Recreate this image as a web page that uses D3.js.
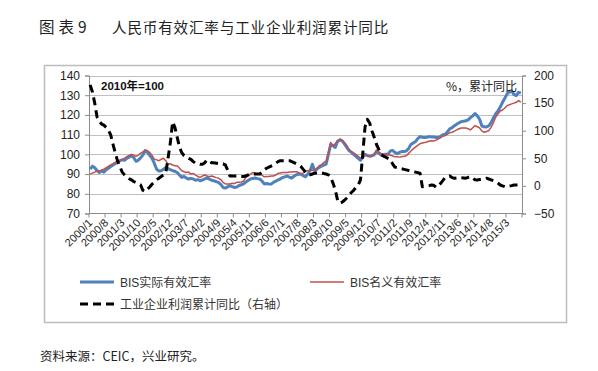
<!DOCTYPE html>
<html>
<head>
<meta charset="utf-8">
<script src="https://cdn.jsdelivr.net/npm/d3@7"></script>
<style>
  html, body { margin: 0; padding: 0; background: #fff; }
  svg { display: block; }
</style>
</head>
<body>
<svg id="chart" width="598" height="371"></svg>
<script>
// ---------- DATA ----------
const startYear = 2000;
const monthCount = 189; // 2000/1 .. 2015/9
const categories = d3.range(monthCount).map(i => `${startYear + Math.floor(i / 12)}/${(i % 12) + 1}`);

const tickLabels = ["2000/1","2000/8","2001/3","2001/10","2002/5","2002/12","2003/7","2004/2","2004/9",
  "2005/4","2005/11","2006/6","2007/1","2007/8","2008/3","2008/10","2009/5","2009/12","2010/7",
  "2011/2","2011/9","2012/4","2012/11","2013/6","2014/1","2014/8","2015/3"];

// BIS real effective exchange rate (2010=100)
const reer = [
  92.5, 94.0, 93.2, 91.8, 90.8, 91.6, 91.0, 92.2, 93.0, 93.8, 94.6, 95.4,
  96.0, 96.8, 97.2, 97.0, 98.0, 98.6, 99.3, 98.4, 96.5, 97.0, 98.2, 99.6,
  101.9, 101.0, 99.5, 98.0, 95.5, 92.5, 91.5, 91.7, 92.4, 93.4, 92.8, 92.2,
  91.7, 91.4, 90.8, 89.5, 88.3, 88.8, 88.0, 87.5, 87.8, 87.5, 86.9, 87.2,
  86.6, 87.0, 87.6, 88.0, 87.4, 86.9, 86.6, 86.2, 85.8, 84.8, 83.2, 82.9,
  83.5, 84.1, 83.6, 83.2, 83.4, 84.2, 84.6, 85.0, 86.0, 86.8, 87.5, 87.8,
  88.0, 87.7, 87.5, 86.5, 85.0, 85.2, 85.0, 84.9, 85.8, 86.4, 87.0, 87.5,
  88.3, 88.6, 89.0, 88.4, 88.0, 88.9, 89.7, 89.9, 90.0, 89.2, 88.6, 90.0,
  91.7, 95.0, 91.7, 92.5, 93.4, 94.0, 94.5, 95.0, 100.0, 105.0, 104.3, 103.5,
  106.6, 107.3, 106.8, 105.3, 103.5, 101.9, 101.0, 100.0, 99.0, 98.0, 97.0, 98.5,
  100.0, 99.5, 99.0, 99.3, 99.8, 101.5, 100.5, 99.7, 99.9, 100.0, 100.0, 101.7,
  102.0, 101.0, 100.3, 101.0, 101.4, 101.5, 101.7, 103.0, 105.0, 105.8, 106.4, 108.0,
  109.0, 108.7, 108.5, 108.7, 109.0, 108.8, 108.8, 108.6, 108.5, 109.2, 110.0, 110.2,
  111.5, 113.0, 113.6, 114.5, 115.3, 116.0, 116.6, 116.8, 117.0, 117.5, 118.6, 119.5,
  120.7, 119.5, 117.8, 114.4, 114.0, 113.9, 114.5, 116.1, 118.5, 120.5, 122.0, 124.0,
  126.4, 128.5, 130.7, 131.5, 132.2, 130.3, 129.8, 131.5, 131.0
];

// BIS nominal effective exchange rate (2010=100)
const neer = [
  90.0, 90.5, 91.0, 91.7, 91.5, 92.0, 92.5, 93.2, 94.0, 94.6, 95.3, 96.0,
  96.5, 96.8, 97.4, 98.0, 98.8, 99.4, 100.0, 99.6, 99.0, 99.6, 100.5, 101.2,
  102.2, 101.8, 101.0, 99.5, 97.6, 97.2, 96.8, 97.5, 98.0, 96.8, 95.0, 95.2,
  94.6, 94.2, 94.2, 93.0, 91.7, 91.2, 90.8, 91.0, 90.0, 90.3, 89.5, 88.8,
  88.3, 89.0, 89.5, 89.0, 88.6, 89.0, 88.6, 88.2, 88.0, 87.2, 85.8, 85.0,
  85.0, 85.0, 85.3, 85.2, 85.8, 85.8, 86.0, 86.5, 88.3, 89.2, 90.0, 90.8,
  90.5, 90.0, 90.0, 89.4, 88.6, 88.8, 88.8, 89.0, 89.0, 89.5, 90.3, 90.6,
  90.8, 90.8, 90.8, 91.0, 91.0, 91.2, 91.2, 90.8, 90.0, 90.5, 91.7, 91.7,
  92.0, 92.0, 92.0, 93.0, 94.2, 94.8, 95.9, 96.5, 100.8, 106.0, 104.3, 105.5,
  106.6, 107.8, 107.2, 106.0, 104.5, 102.5, 101.5, 100.8, 100.0, 99.0, 98.0, 98.5,
  99.5, 99.2, 99.0, 99.2, 100.0, 102.2, 101.2, 100.5, 100.2, 100.0, 99.8, 99.6,
  99.2, 98.8, 98.8, 98.6, 98.8, 99.0, 99.3, 100.5, 101.7, 102.8, 103.7, 104.6,
  105.4, 105.8, 106.0, 106.3, 106.8, 106.9, 106.8, 107.2, 107.8, 108.5, 109.2, 109.5,
  110.3, 111.0, 111.2, 111.8, 112.4, 113.0, 113.4, 113.4, 113.4, 113.0, 112.4, 113.5,
  114.6, 114.0, 113.4, 111.8, 111.2, 111.6, 112.0, 113.7, 116.0, 118.8, 120.5, 122.0,
  122.5, 123.5, 124.7, 125.2, 125.6, 126.0, 126.4, 127.3, 126.5
];

// Industrial enterprise profits, cumulative YoY % (right axis)
const profit = [
  183, 170, 150, 125, 117, 112, 110, 106, 101, 92, 75, 59,
  45, 35, 25, 20, 16, 13, 11, 8, 6, 4, 2, -8,
  -10.5, -6, -2, 3, 7, 11, 14, 17, 20, 23, 50, 78,
  116, 106, 88, 70, 60, 55, 52, 50, 48, 44, 41, 40,
  39, 39, 42, 47, 45, 42, 42, 41, 41, 40, 40, 38,
  29, 18, 18, 18, 18, 17, 17, 17, 18, 20, 21.6, 21.6,
  21.6, 21.6, 21.6, 25, 29, 32, 34, 36, 38, 41, 44, 45.7,
  45.7, 45.7, 45.7, 45.7, 44, 42, 40, 38, 35, 30, 25, 20,
  20, 21.5, 23, 23.5, 24, 23.5, 22.5, 21.6, 20, 16, 5, -7.4,
  -26, -31.5, -29.5, -26, -22, -17, -12, -8, -3, 1.6, 11, 59,
  107, 120.6, 114, 100, 88, 75, 66, 57, 54, 52, 50, 48,
  40, 34, 33, 32, 31, 30, 29, 28, 27, 26, 25, 24,
  23, -1.4, -1, -0.2, 0.5, 1.6, 1, -2.6, 0, 4.7, 10, 15.6,
  17, 18, 15, 14, 14.5, 15.6, 15, 14.5, 14, 15.5, 17, 14,
  11, 10.7, 11.5, 12, 13, 14, 12.5, 11, 9.5, 7.7, 5, 1.6,
  0, -1.4, -1.4, -0.2, 0.5, 1.6, 1.6, 1.6, null
];

const leftTicks = [70, 80, 90, 100, 110, 120, 130, 140];
const rightTicks = [-50, 0, 50, 100, 150, 200];

const seriesNames = ["BIS实际有效汇率", "BIS名义有效汇率", "工业企业利润累计同比（右轴）"];

// ---------- DRAW ----------
const svg = d3.select("#chart");
const plot = { left: 89, right: 522, top: 75.5, bottom: 213.5 };

const x = d3.scaleBand().domain(categories).range([plot.left, plot.right]).paddingInner(0).paddingOuter(0);
const xc = c => x(c) + x.bandwidth() / 2;
const yL = d3.scaleLinear().domain([70, 140]).range([plot.bottom, plot.top]);
const yR = d3.scaleLinear().domain([-50, 200]).range([plot.bottom, plot.top]);

// Title
const titleFont = "'Noto Sans CJK SC', sans-serif";
svg.append("text")
  .attr("x", 39).attr("y", 33)
  .attr("font-family", titleFont)
  .attr("font-size", 15.5).attr("letter-spacing", 4).attr("fill", "#222")
  .text("图表9");
svg.append("text")
  .attr("x", 112).attr("y", 33)
  .attr("font-family", titleFont)
  .attr("font-size", 14.6).attr("letter-spacing", 0.8).attr("fill", "#222")
  .text("人民币有效汇率与工业企业利润累计同比");

// Frame
svg.append("rect")
  .attr("x", 44.5).attr("y", 65.5).attr("width", 522).attr("height", 257)
  .attr("fill", "none").attr("stroke", "#BDBDBD").attr("stroke-width", 1.5);

// Gridlines
svg.append("g").selectAll("line").data(leftTicks.filter(d => d > 70)).join("line")
  .attr("x1", plot.left).attr("x2", plot.right)
  .attr("y1", d => Math.round(yL(d)) + 0.5).attr("y2", d => Math.round(yL(d)) + 0.5)
  .attr("stroke", "#BFBFBF").attr("stroke-width", 1);

// Left axis
const axL = svg.append("g").attr("transform", `translate(${plot.left},0)`)
  .call(d3.axisLeft(yL).tickValues(leftTicks).tickSize(4).tickPadding(5));
axL.select(".domain").attr("stroke", "#8C8C8C");
axL.selectAll(".tick line").attr("stroke", "#8C8C8C");
axL.selectAll("text").attr("font-family", "'Liberation Sans', Arial, sans-serif").attr("font-size", 12).attr("fill", "#222");

// Right axis
const axR = svg.append("g").attr("transform", `translate(${plot.right},0)`)
  .call(d3.axisRight(yR).tickValues(rightTicks).tickSize(4).tickPadding(8));
axR.select(".domain").attr("stroke", "#8C8C8C");
axR.selectAll(".tick line").attr("stroke", "#8C8C8C");
axR.selectAll("text").attr("font-family", "'Liberation Sans', Arial, sans-serif").attr("font-size", 12).attr("fill", "#222");

// Bottom axis
const tickIdx = d3.range(0, monthCount + 1, 7);
const axB = svg.append("g").attr("transform", `translate(0,${plot.bottom})`);
axB.append("line").attr("x1", plot.left).attr("x2", plot.right).attr("y1", 0).attr("y2", 0).attr("stroke", "#8C8C8C");
axB.selectAll("line.tk").data(tickIdx).join("line").attr("class", "tk")
  .attr("x1", d => d < monthCount ? x(categories[d]) : plot.right)
  .attr("x2", d => d < monthCount ? x(categories[d]) : plot.right)
  .attr("y1", 0).attr("y2", 4).attr("stroke", "#8C8C8C");
axB.selectAll("text").data(tickLabels).join("text")
  .attr("transform", d => `translate(${xc(d) + 3},${10}) rotate(-45)`)
  .attr("text-anchor", "end")
  .attr("font-family", "'Liberation Sans', Arial, sans-serif")
  .attr("font-size", 11).attr("fill", "#222")
  .text(d => d);

// Lines
const lineL = d3.line().defined(d => d.v != null).x(d => xc(d.c)).y(d => yL(d.v));
const lineR = d3.line().defined(d => d.v != null).x(d => xc(d.c)).y(d => yR(d.v));
const pack = arr => categories.map((c, i) => ({ c, v: arr[i] == null ? null : arr[i] }));

svg.append("path").datum(pack(reer)).attr("d", lineL)
  .attr("fill", "none").attr("stroke", "#4F81BD").attr("stroke-width", 3).attr("stroke-linejoin", "round");
svg.append("path").datum(pack(neer)).attr("d", lineL)
  .attr("fill", "none").attr("stroke", "#C0504D").attr("stroke-width", 1.5).attr("stroke-linejoin", "round");
svg.append("path").datum(pack(profit)).attr("d", lineR)
  .attr("fill", "none").attr("stroke", "#000").attr("stroke-width", 3)
  .attr("stroke-dasharray", "8,5").attr("stroke-linejoin", "round");

// Annotations
svg.append("text").attr("x", 101).attr("y", 90)
  .attr("font-family", "'Liberation Sans', Arial, 'Noto Sans CJK SC', sans-serif")
  .attr("font-size", 11.5).attr("font-weight", "bold").attr("fill", "#111")
  .text("2010年=100");
svg.append("text").attr("x", 517).attr("y", 91).attr("text-anchor", "end")
  .attr("font-family", "'Noto Sans CJK SC', sans-serif")
  .attr("font-size", 12).attr("fill", "#222")
  .text("%，累计同比");

// Legend
const legend = [
  { name: seriesNames[0], x: 80, y: 282, color: "#4F81BD", w: 3, dash: null },
  { name: seriesNames[1], x: 310, y: 282, color: "#C0504D", w: 1.5, dash: null },
  { name: seriesNames[2], x: 80, y: 304, color: "#000", w: 3, dash: "8,5" }
];
const lg = svg.append("g").selectAll("g").data(legend).join("g");
lg.append("line").attr("x1", d => d.x).attr("x2", d => d.x + 34)
  .attr("y1", d => d.y).attr("y2", d => d.y)
  .attr("stroke", d => d.color).attr("stroke-width", d => d.w)
  .attr("stroke-dasharray", d => d.dash);
lg.append("text").attr("x", d => d.x + 40).attr("y", d => d.y + 4.5)
  .attr("font-family", "'Liberation Sans', 'Noto Sans CJK SC', sans-serif")
  .attr("font-size", 12).attr("fill", "#333")
  .text(d => d.name);

// Source
svg.append("text").attr("x", 40).attr("y", 361)
  .attr("font-family", "'Noto Sans CJK SC', sans-serif")
  .attr("font-size", 12.5).attr("fill", "#222")
  .text("资料来源：CEIC，兴业研究。");
</script>
</body>
</html>
